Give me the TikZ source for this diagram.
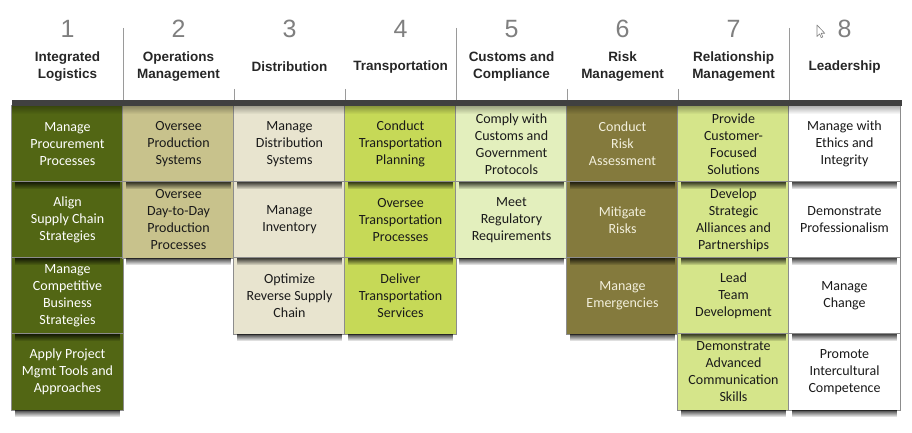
\documentclass[tikz,border=0pt]{standalone}
\usepackage{fontspec}
\setmainfont{Carlito}
\newfontfamily\headfont{Liberation Sans}
\usetikzlibrary{fadings}
\definecolor{cA}{HTML}{526614}
\definecolor{cB}{HTML}{C8C28C}
\definecolor{cC}{HTML}{E8E4CF}
\definecolor{cD}{HTML}{C6D957}
\definecolor{cE}{HTML}{E3EFBD}
\definecolor{cF}{HTML}{847A3D}
\definecolor{cG}{HTML}{D5E58A}
\definecolor{cH}{HTML}{FFFFFF}
\definecolor{tw}{HTML}{FFFFFF}
\definecolor{tl}{HTML}{F2EFDC}
\definecolor{td}{HTML}{1A1A1A}
\definecolor{numgray}{HTML}{7F7F7F}
\definecolor{headc}{HTML}{262626}
\definecolor{sepgray}{HTML}{9A9A9A}
\definecolor{barc}{HTML}{404040}
\definecolor{cellline}{HTML}{8C8C8C}
\pgfdeclarelayer{bg}
\pgfdeclarelayer{shade}
\pgfsetlayers{bg,shade,main}
\tikzset{
  cellbox/.style={minimum width=111pt, minimum height=76pt, inner sep=0pt, align=center,
    font=\fontsize{14}{17}\selectfont},
  numtext/.style={font=\headfont\fontsize{25}{25}\selectfont, text=numgray, inner sep=0pt},
  headtext/.style={font=\headfont\bfseries\fontsize{13.5}{17}\selectfont, align=center,
    text=headc, inner sep=0pt},
  sepline/.style={draw=sepgray, line width=1.1pt},
  cellframe/.style={draw=cellline, line width=0.7pt},
  shadowbar/.style={fill=black, path fading=south, opacity=0.72},
}
\begin{document}
\begin{tikzpicture}[x=1pt, y=-1pt]
\useasboundingbox (0,0) rectangle (912,433);
% headers
\foreach \c/\h in {1/{Integrated\\Logistics}, 2/{Operations\\Management}, 3/{Distribution},
  4/{Transportation}, 5/{Customs and\\Compliance}, 6/{Risk\\Management},
  7/{Relationship\\Management}, 8/{Leadership}} {
  \pgfmathsetmacro\cx{67.5+111*(\c-1)}
  \node[numtext] (n\c) at (\cx,29) {\c};
  \node[headtext] (h\c) at (\cx,67) {\h};
}
% separators
\foreach \x in {123.5,456.5,789.5} \draw[sepline] (\x,28) -- (\x,100);
\foreach \x in {234.5,345.5,567.5,678.5} \draw[sepline] (\x,89) -- (\x,100);
% cells
\foreach \c/\r/\fc/\tc/\t in {
  1/1/cA/tw/{Manage\\Procurement\\Processes},
  1/2/cA/tw/{Align\\Supply Chain\\Strategies},
  1/3/cA/tw/{Manage\\Competitive\\Business\\Strategies},
  1/4/cA/tw/{Apply Project\\Mgmt Tools and\\Approaches},
  2/1/cB/td/{Oversee\\Production\\Systems},
  2/2/cB/td/{Oversee\\Day-to-Day\\Production\\Processes},
  3/1/cC/td/{Manage\\Distribution\\Systems},
  3/2/cC/td/{Manage\\Inventory},
  3/3/cC/td/{Optimize\\Reverse Supply\\Chain},
  4/1/cD/td/{Conduct\\Transportation\\Planning},
  4/2/cD/td/{Oversee\\Transportation\\Processes},
  4/3/cD/td/{Deliver\\Transportation\\Services},
  5/1/cE/td/{Comply with\\Customs and\\Government\\Protocols},
  5/2/cE/td/{Meet\\Regulatory\\Requirements},
  6/1/cF/tl/{Conduct\\Risk\\Assessment},
  6/2/cF/tl/{Mitigate\\Risks},
  6/3/cF/tl/{Manage\\Emergencies},
  7/1/cG/td/{Provide\\Customer-\\Focused\\Solutions},
  7/2/cG/td/{Develop\\Strategic\\Alliances and\\Partnerships},
  7/3/cG/td/{Lead\\Team\\Development},
  7/4/cG/td/{Demonstrate\\Advanced\\Communication\\Skills},
  8/1/cH/td/{Manage with\\Ethics and\\Integrity},
  8/2/cH/td/{Demonstrate\\Professionalism},
  8/3/cH/td/{Manage\\Change},
  8/4/cH/td/{Promote\\Intercultural\\Competence}} {
  \pgfmathsetmacro\cx{67.5+111*(\c-1)}
  \pgfmathsetmacro\cy{144+76*(\r-1)}
  \node[cellbox, text=\tc] (c\c-\r) at (\cx,\cy) {\t};
  \begin{pgfonlayer}{bg}
    \fill[\fc] (c\c-\r.north west) rectangle (c\c-\r.south east);
    \draw[cellframe] (c\c-\r.north west) rectangle (c\c-\r.south east);
  \end{pgfonlayer}
  \begin{pgfonlayer}{shade}
    \fill[shadowbar] ([xshift=3pt]c\c-\r.south west) rectangle ([xshift=-3pt,yshift=-7pt]c\c-\r.south east);
  \end{pgfonlayer}
}
% top bar
\fill[barc] (12,100) rectangle (902,106);
\begin{pgfonlayer}{shade}
  \fill[shadowbar, opacity=0.3] (12,106) rectangle (902,114);
\end{pgfonlayer}
% cursor
\draw[fill=white, draw=gray, line width=0.6pt, line join=round]
  (817,25) -- (817,36.5) -- (819.6,33.9) -- (821.2,37.6) -- (822.8,36.9) -- (821.2,33.3) -- (824.8,33.3) -- cycle;
\end{tikzpicture}
\end{document}
